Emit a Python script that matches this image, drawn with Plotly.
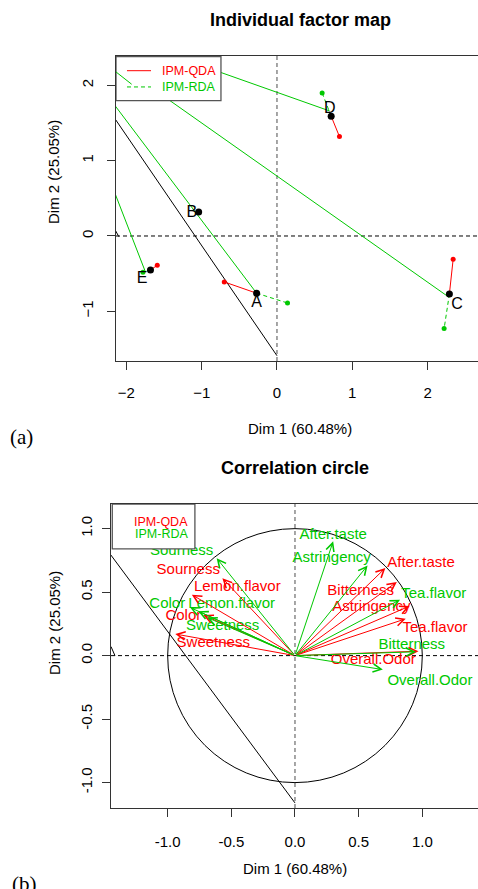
import plotly.graph_objects as go

W, H = 478, 889
FONT = "Liberation Sans, Arial, sans-serif"
RED = "#FF0000"
GREEN = "#00C800"

# ---------------- (a) Individual factor map ----------------
ind_names = ["A", "B", "C", "D", "E"]
ind_x = [-0.27, -1.04, 2.29, 0.72, -1.68]
ind_y = [-0.76, 0.32, -0.77, 1.59, -0.45]
qda_ind_x = [-0.70, None, 2.34, 0.83, -1.59]
qda_ind_y = [-0.61, None, -0.31, 1.32, -0.39]
rda_ind_x = [0.14, None, 2.22, 0.60, -1.78]
rda_ind_y = [-0.89, None, -1.23, 1.90, -0.48]
ind_lab_x = [-0.27, -1.13, 2.39, 0.70, -1.79]
ind_lab_y = [-0.89, 0.31, -0.92, 1.69, -0.57]

# long green links running off the plot to the upper left
link_x0 = [-0.27, 2.28, 0.70, -1.75]
link_y0 = [-0.76, -0.81, 1.66, -0.47]
link_x1 = [-3.2, -3.2, -3.2, -3.2]
link_y1 = [3.12, 3.05, 3.04, 3.27]
# black line (a)
blk_a_x = [0.0, -3.2]
blk_a_y = [-1.59, 3.09]
stroke_a_x = [-2.16, -2.10]
stroke_a_y = [0.10, -0.01]
# small green stroke inside legend (a)
leg_seg_x = [-2.14, -1.93]
leg_seg_y = [2.18, 2.015]

x1_ticks = [-2, -1, 0, 1, 2]
y1_ticks = [-1, 0, 1, 2]

# ---------------- (b) Correlation circle ----------------
var_names = ["Color", "Sourness", "Sweetness", "Lemon.flavor", "Tea.flavor",
             "Bitterness", "Astringency", "After.taste", "Overall.Odor"]
qda_var_x = [-0.72, -0.57, -0.94, -0.81, 0.87, 0.80, 0.90, 0.71, 0.97]
qda_var_y = [0.32, 0.61, 0.17, 0.48, 0.29, 0.58, 0.39, 0.69, 0.035]
rda_var_x = [-0.76, -0.615, -0.69, -0.825, 0.825, 0.95, 0.57, 0.30, 0.69]
rda_var_y = [0.35, 0.767, 0.30, 0.38, 0.44, 0.03, 0.71, 0.90, -0.11]
qda_lab_x = [-0.877, -0.838, -0.642, -0.453, 1.10, 0.516, 0.60, 0.99, 0.615]
qda_lab_y = [0.313, 0.675, 0.10, 0.535, 0.216, 0.51, 0.378, 0.73, -0.034]
rda_lab_x = [-1.003, -0.89, -0.568, -0.497, 1.09, 0.917, 0.288, 0.30, 1.06]
rda_lab_y = [0.405, 0.82, 0.234, 0.405, 0.486, 0.084, 0.767, 0.95, -0.20]

blk_b_x = [0.0, -1.6]
blk_b_y = [-1.16, 1.0]
stroke_b_x = [-1.445, -1.414]
stroke_b_y = [0.071, 0.0]

x2_ticks = [-1.0, -0.5, 0.0, 0.5, 1.0]
tick2_text = ["-1.0", "-0.5", "0.0", "0.5", "1.0"]

legend_labels = ["IPM-QDA", "IPM-RDA"]


def px_x(p):
    return p / W


def px_y(p):
    return 1 - p / H


def seg_xy(x0s, y0s, x1s, y1s):
    xs, ys = [], []
    for a, b, c, d in zip(x0s, y0s, x1s, y1s):
        if c is None:
            continue
        xs += [a, c, None]
        ys += [b, d, None]
    return xs, ys


fig = go.Figure()

# --- plot (a) traces ---
lx, ly = seg_xy(link_x0, link_y0, link_x1, link_y1)
fig.add_trace(go.Scatter(x=lx, y=ly, mode="lines", line=dict(color=GREEN, width=1),
                         xaxis="x", yaxis="y", hoverinfo="skip"))
fig.add_trace(go.Scatter(x=blk_a_x, y=blk_a_y, mode="lines", line=dict(color="black", width=1),
                         xaxis="x", yaxis="y", hoverinfo="skip"))
fig.add_trace(go.Scatter(x=stroke_a_x, y=stroke_a_y, mode="lines", line=dict(color="black", width=1),
                         xaxis="x", yaxis="y", hoverinfo="skip"))
rx, ry = seg_xy(ind_x, ind_y, qda_ind_x, qda_ind_y)
fig.add_trace(go.Scatter(x=rx, y=ry, mode="lines", line=dict(color=RED, width=1),
                         xaxis="x", yaxis="y", hoverinfo="skip"))
gx, gy = seg_xy(ind_x, ind_y, rda_ind_x, rda_ind_y)
fig.add_trace(go.Scatter(x=gx, y=gy, mode="lines", line=dict(color=GREEN, width=1, dash="4px,3px"),
                         xaxis="x", yaxis="y", hoverinfo="skip"))
fig.add_trace(go.Scatter(x=qda_ind_x, y=qda_ind_y, mode="markers", marker=dict(color=RED, size=5),
                         xaxis="x", yaxis="y", hoverinfo="skip"))
fig.add_trace(go.Scatter(x=rda_ind_x, y=rda_ind_y, mode="markers", marker=dict(color=GREEN, size=5),
                         xaxis="x", yaxis="y", hoverinfo="skip"))
fig.add_trace(go.Scatter(x=ind_x, y=ind_y, mode="markers", marker=dict(color="black", size=7),
                         xaxis="x", yaxis="y", hoverinfo="skip"))
fig.add_trace(go.Scatter(x=ind_lab_x, y=ind_lab_y, mode="text", text=ind_names,
                         textposition="middle center",
                         textfont=dict(family=FONT, size=16, color="black"),
                         xaxis="x", yaxis="y", hoverinfo="skip"))

# --- plot (b) traces ---
fig.add_trace(go.Scatter(x=blk_b_x, y=blk_b_y, mode="lines", line=dict(color="black", width=1),
                         xaxis="x2", yaxis="y2", hoverinfo="skip"))
fig.add_trace(go.Scatter(x=stroke_b_x, y=stroke_b_y, mode="lines", line=dict(color="black", width=1),
                         xaxis="x2", yaxis="y2", hoverinfo="skip"))
fig.add_trace(go.Scatter(x=rda_lab_x, y=rda_lab_y, mode="text", text=var_names,
                         textposition="middle center",
                         textfont=dict(family=FONT, size=15, color=GREEN),
                         xaxis="x2", yaxis="y2", hoverinfo="skip"))
fig.add_trace(go.Scatter(x=qda_lab_x, y=qda_lab_y, mode="text", text=var_names,
                         textposition="middle center",
                         textfont=dict(family=FONT, size=15, color=RED),
                         xaxis="x2", yaxis="y2", hoverinfo="skip"))

annotations = []
for vx, vy in zip(qda_var_x, qda_var_y):
    annotations.append(dict(x=vx, y=vy, ax=0, ay=0, xref="x2", yref="y2", axref="x2", ayref="y2",
                            text="", showarrow=True, arrowhead=5, arrowsize=1.6, arrowwidth=1,
                            arrowcolor=RED, standoff=0))
for vx, vy in zip(rda_var_x, rda_var_y):
    annotations.append(dict(x=vx, y=vy, ax=0, ay=0, xref="x2", yref="y2", axref="x2", ayref="y2",
                            text="", showarrow=True, arrowhead=5, arrowsize=1.6, arrowwidth=1,
                            arrowcolor=GREEN, standoff=0))


def ann(text, xp, yp, size, bold=False, family=FONT, angle=0, xanchor="center", color="black"):
    return dict(text=("<b>%s</b>" % text) if bold else text, x=px_x(xp), y=px_y(yp),
                xref="paper", yref="paper", showarrow=False, xanchor=xanchor, yanchor="middle",
                textangle=angle, font=dict(family=family, size=size, color=color))


annotations += [
    ann("Individual factor map", 300, 20, 18, bold=True),
    ann("Dim 1 (60.48%)", 300, 429, 15),
    ann("Dim 2 (25.05%)", 54, 172, 15, angle=-90),
    ann("(a)", 8, 437, 21, family="Liberation Serif, Times New Roman, serif", xanchor="left"),
    ann("Correlation circle", 294.5, 468, 18, bold=True),
    ann("Dim 1 (60.48%)", 295, 868, 15),
    ann("Dim 2 (25.05%)", 54, 623, 15, angle=-90),
    ann("(b)", 10, 884, 21, family="Liberation Serif, Times New Roman, serif", xanchor="left"),
]
# legend texts
annotations += [
    dict(text=legend_labels[0], x=-1.169, y=2.19, xref="x", yref="y", showarrow=False,
         font=dict(family=FONT, size=12.5, color=RED)),
    dict(text=legend_labels[1], x=-1.169, y=1.98, xref="x", yref="y", showarrow=False,
         font=dict(family=FONT, size=12.5, color=GREEN)),
    dict(text=legend_labels[0], x=-1.05, y=1.05, xref="x2", yref="y2", showarrow=False,
         font=dict(family=FONT, size=12.5, color=RED)),
    dict(text=legend_labels[1], x=-1.05, y=0.956, xref="x2", yref="y2", showarrow=False,
         font=dict(family=FONT, size=12.5, color=GREEN)),
]

shapes = [
    # reference dashed lines (a)
    dict(type="line", xref="x", yref="y domain", x0=0, x1=0, y0=0, y1=1,
         line=dict(color="#777777", width=1.3, dash="4px,3px"), layer="below"),
    dict(type="line", xref="x domain", yref="y", x0=0, x1=1, y0=0, y1=0,
         line=dict(color="black", width=1, dash="4px,3px"), layer="below"),
    # reference dashed lines (b)
    dict(type="line", xref="x2", yref="y2 domain", x0=0, x1=0, y0=0, y1=1,
         line=dict(color="#777777", width=1.3, dash="4px,3px"), layer="below"),
    dict(type="line", xref="x2 domain", yref="y2", x0=0, x1=1, y0=0, y1=0,
         line=dict(color="black", width=1, dash="4px,3px"), layer="below"),
    # unit circle
    dict(type="circle", xref="x2", yref="y2", x0=-1, x1=1, y0=-1, y1=1,
         line=dict(color="black", width=1), layer="below"),
    # legend (a)
    dict(type="rect", xref="x", yref="y", x0=-2.138, x1=-0.744, y0=1.797, y1=2.381,
         fillcolor="white", line=dict(color="#555555", width=1.3), layer="above"),
    dict(type="line", xref="x", yref="y", x0=-1.992, x1=-1.673, y0=2.195, y1=2.195,
         line=dict(color=RED, width=1), layer="above"),
    dict(type="line", xref="x", yref="y", x0=-1.992, x1=-1.673, y0=1.979, y1=1.979,
         line=dict(color=GREEN, width=1, dash="4px,3px"), layer="above"),
    dict(type="line", xref="x", yref="y", x0=leg_seg_x[0], x1=leg_seg_x[1],
         y0=leg_seg_y[0], y1=leg_seg_y[1], line=dict(color=GREEN, width=1), layer="above"),
    # legend (b)
    dict(type="rect", xref="x2", yref="y2", x0=-1.435, x1=-0.786, y0=0.84, y1=1.194,
         fillcolor="white", line=dict(color="#555555", width=1.3), layer="above"),
]

axis_common = dict(showgrid=False, zeroline=False, showline=True, linecolor="#333333",
                   linewidth=1.2, ticks="outside", ticklen=8, tickcolor="#333333", tickwidth=1,
                   tickfont=dict(family=FONT, size=15, color="black"), automargin=False,
                   fixedrange=True)

fig.update_layout(
    width=W, height=H, margin=dict(l=0, r=0, t=0, b=0),
    paper_bgcolor="white", plot_bgcolor="white", showlegend=False,
    template="none",
    xaxis=dict(**axis_common, domain=[px_x(116), 1], range=[-2.138, 2.67], anchor="y",
               tickvals=x1_ticks, mirror=True, ticklabelstandoff=10),
    yaxis=dict(**axis_common, domain=[px_y(361), px_y(56)], range=[-1.66, 2.39], anchor="x",
               tickvals=y1_ticks, tickangle=-90, ticklabelstandoff=8),
    xaxis2=dict(**axis_common, domain=[px_x(111), 1], range=[-1.445, 1.4375], anchor="y2",
                tickvals=x2_ticks, ticktext=tick2_text, mirror=True, ticklabelstandoff=12),
    yaxis2=dict(**axis_common, domain=[px_y(808), px_y(504)], range=[-1.2, 1.194], anchor="x2",
                tickvals=x2_ticks, ticktext=tick2_text, tickangle=-90, ticklabelstandoff=4),
    annotations=annotations,
    shapes=shapes,
)

fig.write_html("out.html", config={"displayModeBar": False},
               post_script="document.body.style.margin='0px';document.body.style.overflow='hidden';")
